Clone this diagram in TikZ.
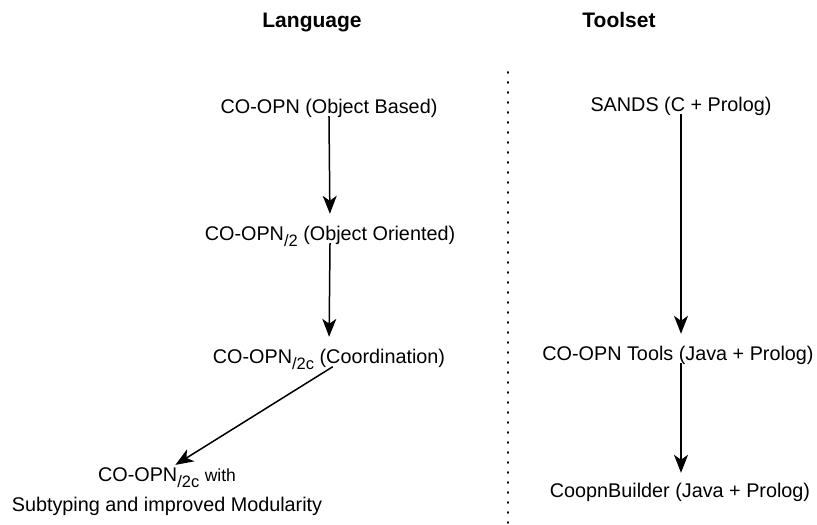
\documentclass[tikz,border=0pt]{standalone}
\usepackage{fontspec}
\setmainfont{Liberation Sans}
\usetikzlibrary{arrows.meta}
\newcommand\subsc[1]{\raisebox{-6pt}{\fontsize{16.5}{16.5}\selectfont #1}}
\begin{document}
\begin{tikzpicture}[x=1pt,y=-1pt,
  lbl/.style={font=\fontsize{19.8}{30}\selectfont, inner sep=0pt, text height=15pt, text depth=4pt, anchor=base},
  ttl/.style={font=\fontsize{21}{25}\selectfont\bfseries, inner sep=0pt, anchor=base},
  conn/.style={line width=1.5pt, -{Stealth[length=18pt,width=14pt,inset=5pt]}, shorten >=11pt, shorten <=-1pt},
  sep/.style={line width=2pt, line cap=round, dash pattern=on 0.8pt off 9.2pt}]
\useasboundingbox (0,0) rectangle (817,525);
% titles
\node[ttl] (tlang) at (312,27) {Language};
\node[ttl] (ttool) at (619,27) {Toolset};
% separator
\coordinate (dtop) at (508,72);
\coordinate (dbot) at (508,525);
\draw[sep] (dtop) -- (dbot);
% language column
\node[lbl] (l1) at (329,113) {CO-OPN (Object Based)};
\node[lbl] (l2) at (330,240) {CO-OPN\subsc{/2} (Object Oriented)};
\node[lbl] (l3) at (329,363) {CO-OPN\subsc{/2c} (Coordination)};
\node[font=\fontsize{19.8}{30}\selectfont, inner sep=0pt, align=center, anchor=north] (l4) at (167,467)
  {CO-OPN\subsc{/2c} {\fontsize{17.5}{17.5}\selectfont with}\\Subtyping and improved Modularity};
% toolset column
\node[lbl] (t1) at (681,111) {SANDS (C + Prolog)};
\node[lbl] (t2) at (678,360) {CO-OPN Tools (Java + Prolog)};
\node[lbl] (t3) at (680,497) {CoopnBuilder (Java + Prolog)};
% connectors
\draw[conn] (l1.south) -- (l2.north);
\draw[conn] (l2.south) -- (l3.north);
\draw[conn, shorten >=4pt] ([xshift=3pt]l3.south) -- ([xshift=5pt]l4.north);
\draw[conn] (t1.south) -- (t2.north -| t1.south);
\draw[conn, shorten >=9pt] (t2.south -| t1.south) -- (t3.north -| t1.south);
\end{tikzpicture}
\end{document}
